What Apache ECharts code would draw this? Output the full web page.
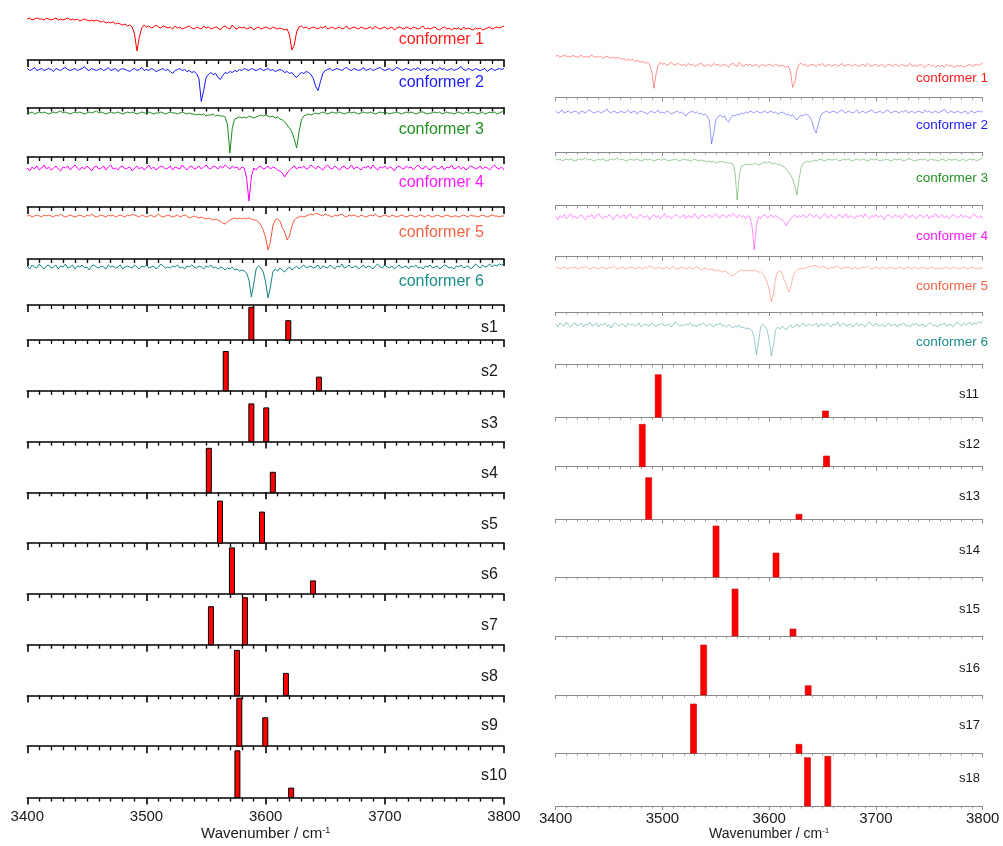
<!DOCTYPE html>
<html>
<head>
<meta charset="utf-8">
<script src="https://cdn.jsdelivr.net/npm/echarts@6/dist/echarts.min.js"></script>
<style>
  html, body { margin: 0; padding: 0; background: #fff; }
  #chart { width: 1003px; height: 846px; }
</style>
</head>
<body>
<div id="chart"></div>
<script>
// ---- IR spectra: wavenumber grid 3400..3800 cm-1, step 2 cm-1 ----
const WN_MIN = 3400;
const WN_MAX = 3800;
const WN_STEP = 2;
const TICK_LABELS = ['3400', '3500', '3600', '3700', '3800'];
const AXIS_TITLE = 'Wavenumber / cm';
const AXIS_TITLE_SUP = '-1';

const conformerNames = ['conformer 1', 'conformer 2', 'conformer 3', 'conformer 4', 'conformer 5', 'conformer 6'];

// measured depletion signals (arb. units, 0 = baseline)
const conformer1 = [
  9, 10, 8, 9, 10, 9, 9, 8, 10, 9,
  8, 9, 10, 8, 9, 8, 9, 10, 8, 9,
  8, 9, 7, 8, 9, 8, 7, 8, 7, 8,
  7, 6, 7, 5, 6, 5, 6, 4, 5, 4,
  3, 4, 2, 3, 1, -6, -23, -9, 0, 3,
  1, 2, 0, 1, 3, 1, 0, 2, 1, 0,
  1, -1, 2, 0, 1, -1, 0, 1, 2, 0,
  -1, 1, 0, -1, 2, 0, 1, -1, 0, 1,
  0, -2, 1, 2, 0, -1, 3, 0, -1, 1,
  0, 1, -1, 0, 1, -2, 0, 1, -1, 0,
  1, 0, -1, 1, 0, -1, 0, -1, -2, -1,
  -7, -22, -17, -4, 1, 2, 0, 1, -1, 0,
  1, 0, -1, 1, 0, 2, -1, 0, 1, -1,
  0, 1, -1, 0, 2, -1, 0, 1, 0, -1,
  1, 0, -1, 0, 1, -1, 2, 0, -1, 0,
  1, -1, 0, 1, -2, 0, 1, 0, -1, 1,
  0, -1, 1, 0, -1, 0, 2, -1, 0, -1,
  0, 1, -1, -2, 0, 1, -1, 0, -2, 0,
  -1, 0, -2, 1, -1, 0, -1, -2, 0, -1,
  0, -2, -1, 0, 1, -1, 0, 1, 0, 1,
  2
];
const conformer2 = [
  1, -1, 0, 2, -1, 0, 1, -1, 0, 1,
  0, -2, 1, 0, -1, 1, 2, 0, -1, 0,
  1, -1, 0, 1, 3, 0, -1, 1, 0, -1,
  0, 1, -1, 0, 2, -1, 0, 1, -2, 0,
  1, 0, -1, -2, 0, 1, -1, 0, 2, -1,
  0, -1, 1, 0, -2, -1, 0, 1, -1, 0,
  -2, -4, -1, 0, 1, -1, 0, -2, -1, -3,
  -2, -4, -9, -32, -21, -8, -5, -3, -5, -4,
  -8, -10, -6, -3, -4, -2, -3, -1, -2, 0,
  -1, 1, 0, -1, 1, 0, -1, 0, 1, -1,
  0, 1, -1, 0, -2, -1, 0, -1, -3, -2,
  -4, -3, -6, -8, -5, -3, -4, -2, -3, -5,
  -9, -17, -21, -12, -4, -1, 0, 1, -1, 0,
  1, 0, -1, 1, 2, 0, -1, 1, 0, -1,
  0, 2, -1, 0, 1, -1, 0, 1, 2, 0,
  -1, 0, 1, -1, 0, 2, 1, -1, 0, 1,
  0, -1, 1, 0, 2, -1, 0, 1, -1, 0,
  1, 0, -1, 2, 0, 1, -1, 0, 1, -1,
  0, 1, 3, 0, -1, 1, 0, -1, 1, 0,
  -1, 0, 1, -2, 0, 1, -1, 0, 1, 0,
  1
];
const conformer3 = [
  1, 0, 1, -1, 0, 1, 0, 1, 0, -1,
  0, 1, 0, 1, 2, 0, 1, 0, -1, 0,
  1, 0, 1, 0, -1, 0, 1, 0, 1, 2,
  0, 1, 0, -1, 0, 1, 0, 0, 1, 0,
  -1, 0, 1, 0, 1, 0, -1, 0, 1, 0,
  0, 1, 0, -1, 0, 0, 1, 0, -1, 0,
  1, 0, 0, -1, 0, 1, 0, -1, 0, -1,
  -1, -2, -1, -2, -1, -3, -2, -2, -1, -3,
  -2, -3, -3, -4, -12, -40, -15, -6, -5, -4,
  -5, -4, -5, -3, -4, -5, -4, -3, -2, -3,
  -2, -3, -4, -3, -5, -4, -6, -7, -9, -12,
  -15, -19, -26, -35, -19, -7, -3, -2, -1, -2,
  -1, 0, -1, 0, 1, 0, -1, 0, 1, 0,
  0, 1, 0, -1, 0, 1, 0, 1, 0, -1,
  0, 1, 0, 0, 1, 0, -1, 0, 1, 0,
  1, 0, -1, 0, 0, 1, 0, -1, 0, 1,
  0, 1, 0, -1, 0, 1, 1, 0, -1, 0,
  0, 1, 0, 1, -1, 0, 1, 0, 0, -1,
  0, 1, 0, -1, 1, 0, 0, 1, 0, -1,
  0, 1, -1, 0, 1, 0, 1, -1, 0, 1,
  2
];
const conformer4 = [
  0, -3, 1, -1, 2, -2, 0, 3, -1, 1,
  -2, 0, 2, -1, -3, 1, 0, 2, -2, 1,
  3, 0, -2, 1, -1, 2, 0, -3, 1, 2,
  -1, 0, 2, -2, 1, 3, -1, 0, -2, 1,
  2, -1, 0, 1, -3, 0, 2, -1, 1, -2,
  0, 3, -1, 1, -2, 0, 2, 1, -1, 0,
  2, -2, 1, 0, -1, 3, 0, -2, 1, 2,
  -1, 0, 2, -1, 1, 3, 0, -1, 2, 1,
  -1, 2, 0, 3, 1, -1, 2, 0, 1, -2,
  1, 0, -10, -33, -9, 0, -2, 1, 2, -1,
  0, 2, -1, 1, 0, -2, -3, -5, -9, -5,
  -2, 0, 2, -1, 1, 0, 2, -1, 0, 3,
  1, -1, 2, 0, -2, 1, 3, 0, -1, 2,
  0, -2, 1, 2, -1, 0, 3, -1, 1, 0,
  -2, 1, 0, 2, -1, 3, 0, -2, 1, 0,
  2, -1, 1, 0, -3, 1, 2, 0, -1, 2,
  0, 1, -2, 1, 3, 0, -1, 2, 0, -2,
  1, 2, -1, 0, 2, -2, 1, 0, 3, -1,
  0, 2, -1, 1, -2, 0, 2, 1, -1, 0,
  2, -1, 1, 0, -2, 1, 3, 0, -1, 1,
  -2
];
const conformer5 = [
  0, 1, -1, 0, 1, 0, -1, 1, 0, 1,
  0, -1, 1, 0, 2, 0, -1, 0, 1, 0,
  -1, 0, 1, 0, -1, 1, 0, 2, 0, -1,
  0, 1, 0, -1, 1, 0, 1, -1, 0, 1,
  0, -1, 1, 0, 2, 1, 0, -1, 1, 0,
  -1, 0, 1, -1, 0, 2, 0, -1, 0, 1,
  0, -1, 0, 1, -1, 0, 1, 0, -2, -1,
  0, -1, -2, -1, -2, -3, -2, -3, -4, -3,
  -4, -5, -7, -8, -6, -4, -3, -2, -3, -2,
  -3, -2, -3, -2, -3, -4, -4, -6, -9, -14,
  -22, -34, -26, -10, -4, -3, -5, -12, -16, -24,
  -20, -10, -4, -2, -1, 0, -1, 0, 1, 2,
  1, 3, 2, 1, 0, 2, 1, 0, -1, 1,
  0, 1, 2, 0, -1, 1, 0, 1, 0, -1,
  1, 0, -1, 0, 1, 0, 2, 0, -1, 0,
  1, 0, -1, 1, 0, -1, 0, 1, 0, -1,
  0, 1, 0, -1, 0, 1, 0, -1, 1, 0,
  -1, 0, 1, 0, -1, 0, 1, 0, -1, 0,
  0, -1, 0, 1, 0, -1, 1, 0, 0, -1,
  0, 1, 0, -1, 0, 1, 0, 0, -1, 0,
  0
];
const conformer6 = [
  1, -2, 2, 0, -1, 3, 0, -2, 1, 2,
  -1, 0, 2, -2, 1, 0, 3, -1, 0, 2,
  -2, 1, 0, 2, -1, 0, -3, 1, 2, 0,
  -1, 1, 0, -2, 2, 0, 1, -1, 0, 2,
  -2, 0, 1, 0, -1, 2, 0, -2, 1, 0,
  2, -1, 0, 1, -2, 0, 3, 1, -1, 0,
  -1, 1, 0, 2, -1, 0, -2, 1, 0, 2,
  0, -1, 1, 0, -2, 1, 0, 2, -1, 0,
  -2, 0, -1, -3, -1, -2, 0, -3, -2, -4,
  -3, -4, -6, -13, -30, -17, -2, 1, -1, -5,
  -15, -31, -20, -5, -2, -4, -1, -3, -5, -2,
  0, -3, -1, 1, -2, 0, 2, -1, 0, 1,
  -1, 0, 2, -2, 1, 0, -1, 2, 0, -2,
  1, 0, 3, -1, 0, 2, -1, 0, 1, -2,
  0, 2, -1, 1, 0, -2, 1, 3, 0, -1,
  2, 0, -1, 1, -2, 0, 2, -1, 0, 1,
  -2, 1, 0, 2, -1, 0, -2, 1, 0, 2,
  -1, 0, 1, -2, 0, 2, 1, -1, 0, -2,
  1, 0, 2, -1, 0, 1, -2, 0, 3, 1,
  -1, 2, 0, 1, 3, 0, 2, 1, 3, 2,
  4
];

// computed stick spectra: [wavenumber / cm-1, intensity (arb. units)]
const s1 = [[3588.0, 32.7], [3619.0, 19.3]];
const s2 = [[3566.5, 39.3], [3644.7, 13.7]];
const s3 = [[3588.0, 37.7], [3600.5, 33.7]];
const s4 = [[3552.3, 44.0], [3606.0, 20.0]];
const s5 = [[3561.7, 42.0], [3596.9, 31.0]];
const s6 = [[3571.7, 46.0], [3639.7, 13.0]];
const s7 = [[3554.1, 38.0], [3582.6, 47.0]];
const s8 = [[3575.9, 45.0], [3617.0, 22.0]];
const s9 = [[3577.9, 48.0], [3599.7, 28.4]];
const s10 = [[3576.3, 46.7], [3621.4, 9.4]];
const s11 = [[3496.0, 42.6], [3652.7, 6.3]];
const s12 = [[3481.1, 42.4], [3653.7, 10.7]];
const s13 = [[3487.1, 41.6], [3627.9, 5.0]];
const s14 = [[3550.2, 51.0], [3606.4, 24.0]];
const s15 = [[3568.0, 47.0], [3622.3, 7.0]];
const s16 = [[3538.6, 50.0], [3636.5, 9.3]];
const s17 = [[3529.1, 49.3], [3627.9, 9.0]];
const s18 = [[3635.9, 48.3], [3654.9, 49.7]];

const leftSticks = [s1, s2, s3, s4, s5, s6, s7, s8, s9, s10];
const leftStickNames = ['s1', 's2', 's3', 's4', 's5', 's6', 's7', 's8', 's9', 's10'];
const rightSticks = [s11, s12, s13, s14, s15, s16, s17, s18];
const rightStickNames = ['s11', 's12', 's13', 's14', 's15', 's16', 's17', 's18'];
const conformers = [conformer1, conformer2, conformer3, conformer4, conformer5, conformer6];

// ---- layout & styling ----
const FONT = '"Liberation Sans", Arial, Helvetica, sans-serif';
const lineColors = ['#ff0000', '#1414ff', '#1f8a1f', '#ff00ff', '#f25c3c', '#148585'];
const labelColors = ['#ff1a1a', '#1a1aff', '#229022', '#ff1aff', '#f26448', '#1a8c8c'];

const COLS = {
  left: {
    x0: 27.3, x1: 504,
    confTop: 10,
    confBottoms: [60, 107.5, 157, 207, 259, 305],
    confOffsets: [32, 38, 44, 39, 43, 38],
    confLabelX: 484, confLabelY: [40, 83, 130, 182.5, 232.7, 281.7], confFont: 16,
    stickBottoms: [340, 390.8, 441.6, 492.3, 543.1, 593.9, 644.7, 695.4, 746.2, 797.5],
    stickLabelX: 481, stickLabelY: [327.3, 371.7, 423.3, 473.3, 524.1, 574.9, 625.7, 676.4, 726, 776], stickFont: 16,
    axisColor: '#000', axisWidth: 1.6, majorLen: 7, minorLen: 4,
    lineWidth: 1, lineOpacity: 1,
    barWidth: 5, barStroke: '#000', barStrokeWidth: 1,
    tickFont: 15, tickMargin: 12, titleFont: 15, titleGap: 29
  },
  right: {
    x0: 555.7, x1: 982.7,
    confTop: 45,
    confBottoms: [97.3, 152, 205.7, 256.7, 312, 364.7],
    confOffsets: [32, 40, 45.7, 40, 44, 39.7],
    confLabelX: 988, confLabelY: [78.3, 125, 178.3, 236, 286, 342.7], confFont: 13.5,
    stickBottoms: [417.3, 466.7, 519.3, 577, 636, 695, 753.3, 806],
    stickLabelX: 959, stickLabelY: [394.3, 444, 496.7, 550, 609, 668, 725, 778.3], stickFont: 13,
    axisColor: '#8a8a8a', axisWidth: 1, majorLen: 4, minorLen: 2.5,
    lineWidth: 0.8, lineOpacity: 0.55,
    barWidth: 6, barStroke: '#c80000', barStrokeWidth: 0.6,
    tickFont: 15, tickMargin: 5, titleFont: 14, titleGap: 19
  }
};

const grids = [], xAxes = [], yAxes = [], series = [], graphics = [];

function addPanel(col, top, bottom, yMin, yMax, withLabels) {
  const idx = grids.length;
  grids.push({ left: col.x0, width: col.x1 - col.x0, top: top, height: bottom - top });
  const lineStyle = { color: col.axisColor, width: col.axisWidth };
  xAxes.push({
    type: 'value', gridIndex: idx, min: WN_MIN, max: WN_MAX, interval: 100,
    position: 'bottom',
    axisLine: { show: true, onZero: false, lineStyle: lineStyle },
    axisTick: { show: true, inside: false, length: col.majorLen, lineStyle: lineStyle },
    minorTick: { show: true, splitNumber: 10, length: col.minorLen, lineStyle: { color: col.axisColor, width: col.axisWidth * 0.85 } },
    splitLine: { show: false },
    minorSplitLine: { show: false },
    axisLabel: {
      show: withLabels, margin: col.tickMargin, fontSize: col.tickFont, fontFamily: FONT, color: '#1a1a1a',
      showMinLabel: true, showMaxLabel: true, hideOverlap: false,
      formatter: function (v) { return TICK_LABELS[Math.round((v - WN_MIN) / 100)] || ''; }
    },
    name: withLabels ? '{t|' + AXIS_TITLE + '}{sup|' + AXIS_TITLE_SUP + '}' : '',
    nameLocation: 'middle',
    nameGap: col.titleGap,
    nameTextStyle: {
      rich: {
        t: { fontSize: col.titleFont, fontFamily: FONT, color: '#1a1a1a' },
        sup: { fontSize: Math.round(col.titleFont * 0.6), fontFamily: FONT, color: '#1a1a1a', verticalAlign: 'top' }
      }
    }
  });
  yAxes.push({ type: 'value', gridIndex: idx, min: yMin, max: yMax, show: false });
  return idx;
}

function spectrumPoints(vals) {
  return vals.map(function (v, i) { return [WN_MIN + WN_STEP * i, v]; });
}

function stickRenderer(col) {
  return function (params, api) {
    const x = api.value(0), h = api.value(1);
    const base = api.coord([x, 0]);
    const tip = api.coord([x, h]);
    return {
      type: 'rect',
      shape: { x: base[0] - col.barWidth / 2, y: tip[1], width: col.barWidth, height: base[1] - tip[1] },
      style: { fill: '#ff0000', stroke: col.barStroke, lineWidth: col.barStrokeWidth }
    };
  };
}

function buildColumn(col, sticks, stickNames) {
  // spectra
  let top = col.confTop;
  conformers.forEach(function (vals, k) {
    const bottom = col.confBottoms[k];
    const off = col.confOffsets[k];
    const idx = addPanel(col, top, bottom, -off, (bottom - top) - off, false);
    series.push({
      type: 'line', name: conformerNames[k], xAxisIndex: idx, yAxisIndex: idx,
      data: spectrumPoints(vals), showSymbol: false, symbol: 'none', clip: false,
      lineStyle: { color: lineColors[k], width: col.lineWidth, opacity: col.lineOpacity },
      silent: true
    });
    graphics.push({
      type: 'text', x: col.confLabelX, y: col.confLabelY[k],
      style: { text: conformerNames[k], fill: labelColors[k], fontSize: col.confFont, fontFamily: FONT, align: 'right', verticalAlign: 'middle' }
    });
    top = bottom;
  });
  // sticks
  sticks.forEach(function (data, k) {
    const bottom = col.stickBottoms[k];
    const last = k === sticks.length - 1;
    const idx = addPanel(col, top, bottom, 0, bottom - top, last);
    series.push({
      type: 'custom', name: stickNames[k], xAxisIndex: idx, yAxisIndex: idx,
      data: data, clip: false, renderItem: stickRenderer(col), silent: true
    });
    graphics.push({
      type: 'text', x: col.stickLabelX, y: col.stickLabelY[k],
      style: { text: stickNames[k], fill: '#1a1a1a', fontSize: col.stickFont, fontFamily: FONT, align: 'left', verticalAlign: 'middle' }
    });
    top = bottom;
  });
}

buildColumn(COLS.left, leftSticks, leftStickNames);
buildColumn(COLS.right, rightSticks, rightStickNames);

const chart = echarts.init(document.getElementById('chart'), null, { renderer: 'canvas' });
chart.setOption({
  animation: false,
  backgroundColor: '#ffffff',
  grid: grids,
  xAxis: xAxes,
  yAxis: yAxes,
  series: series,
  graphic: graphics
});
</script>
</body>
</html>
